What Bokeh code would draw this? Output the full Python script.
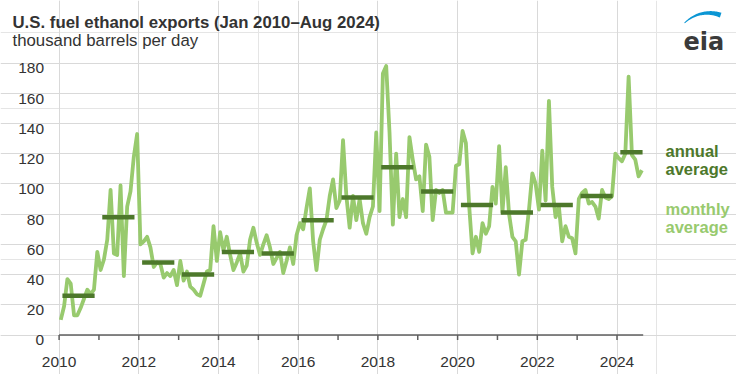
import numpy as np
from bokeh.plotting import figure
from bokeh.models import FixedTicker, Range1d, Grid
from bokeh.core.properties import value
from bokeh.embed import file_html
from bokeh.resources import INLINE

# ---- data (thousand barrels per day) ----
years = list(range(2010, 2025))
m2010 = [10, 19, 37, 34, 13, 13, 18, 24, 30, 27, 30, 55]
m2011 = [43, 50, 63, 96, 54, 53, 99, 39, 85, 95, 118, 133]
m2012 = [60, 62, 65, 58, 45, 48, 47, 38, 41, 39, 43, 33]
m2013 = [49, 36, 42, 32, 30, 27, 26, 34, 42, 43, 72, 49]
m2014 = [68, 56, 65, 53, 43, 48, 54, 42, 46, 63, 71, 61]
m2015 = [53, 60, 66, 58, 47, 51, 55, 41, 49, 58, 47, 66]
m2016 = [74, 70, 84, 97, 62, 43, 63, 70, 76, 92, 103, 84]
m2017 = [89, 129, 92, 71, 92, 76, 90, 74, 67, 78, 85, 134]
m2018 = [82, 173, 178, 134, 73, 120, 78, 90, 78, 131, 116, 103]
m2019 = [105, 82, 126, 118, 76, 96, 94, 96, 81, 81, 81, 112]
m2020 = [113, 135, 127, 85, 54, 65, 55, 74, 67, 72, 98, 87]
m2021 = [125, 81, 111, 80, 65, 62, 40, 62, 63, 83, 107, 100]
m2022 = [83, 122, 89, 155, 98, 78, 85, 62, 72, 65, 64, 54]
m2023 = [90, 94, 96, 87, 88, 85, 77, 96, 91, 90, 92, 120]
m2024 = [117, 115, 120, 171, 119, 116, 105, 109]
monthly = [m2010, m2011, m2012, m2013, m2014, m2015, m2016, m2017,
           m2018, m2019, m2020, m2021, m2022, m2023, m2024]
annual_avg = [26, 78, 48, 40, 55, 54, 76, 91, 111, 95, 86, 81, 86, 92, 121]
x_major = [2010, 2012, 2014, 2016, 2018, 2020, 2022, 2024]
x_tick_labels = ["2010", "2012", "2014", "2016", "2018", "2020", "2022", "2024"]
x_all_ticks = list(range(2010, 2025))
y_ticks = [0, 20, 40, 60, 80, 100, 120, 140, 160, 180]
y_tick_labels = ["0", "20", "40", "60", "80", "100", "120", "140", "160", "180"]

LIGHT = "#98ca6e"
DARK = "#4d782b"
TXT = "#333333"
AXIS = "#5f5f5f"
GRID = "#d9d9d9"
FONT = value("Liberation Sans")

# ---- geometry (figure sits at page x=0, y=OFF_Y) ----
W, H = 736, 374
OFF_X, OFF_Y = 0, 4
X_PX0, PX_YR = 58.6, 39.85          # page x of 2010, pixels per year
Y_PX0, PX_UNIT = 338.5, 272 / 180   # page y of 0, pixels per unit

def px2x(px):
    return 2010 + (px - X_PX0) / PX_YR

def py2y(py):
    return (Y_PX0 - py) / PX_UNIT

XEND = px2x(642.7)

p = figure(width=W, height=H, output_backend="svg", toolbar_location=None,
           title=None,
           x_range=Range1d(px2x(OFF_X), px2x(OFF_X + W)),
           y_range=Range1d(py2y(OFF_Y + H), py2y(OFF_Y)),
           x_axis_location=None, y_axis_location=None,
           min_border_left=0, min_border_right=0, min_border_top=0,
           min_border_bottom=0)
p.outline_line_color = None
p.background_fill_color = "white"
p.border_fill_color = "white"

# grids limited to the data area
p.add_layout(Grid(dimension=0, ticker=FixedTicker(ticks=x_major),
                  bounds=(0, 180), grid_line_color=GRID))
p.add_layout(Grid(dimension=1, ticker=FixedTicker(ticks=y_ticks),
                  bounds=(2010, XEND), grid_line_color=GRID))

# monthly points at mid-month
mx, my = [], []
for yr, vals in zip(years, monthly):
    for i, v in enumerate(vals):
        mx.append(yr + (i + 0.5) / 12)
        my.append(v)

# annual dashes
ax0 = [yr + 1.0 / 12 for yr in years]
ax1 = [yr + 10.7 / 12 for yr in years]
ax1[-1] = min(years[-1] + (len(m2024) - 0.3) / 12, XEND)

p.line(mx, my, line_color=LIGHT, line_width=3.8, line_join="round")
p.segment(x0=ax0, y0=annual_avg, x1=ax1, y1=annual_avg, line_color=DARK,
          line_width=4.5, line_cap="butt")

# x axis line and tick marks
tick_len = 5 / PX_UNIT
p.segment(x0=[2010], y0=[0], x1=[XEND], y1=[0], line_color=AXIS, line_width=1.5)
p.segment(x0=x_all_ticks, y0=[0] * len(x_all_ticks), x1=x_all_ticks,
          y1=[-tick_len] * len(x_all_ticks), line_color=AXIS, line_width=1.5)

# tick labels
p.text(x=x_major, y=[py2y(365)] * len(x_major), text=x_tick_labels,
       text_font=FONT, text_font_size="15.5px", text_color=TXT,
       text_align="center", text_baseline="alphabetic")
p.text(x=[px2x(43.5)] * len(y_ticks), y=[t - 5.4 / PX_UNIT for t in y_ticks],
       text=y_tick_labels, text_font=FONT, text_font_size="15.5px",
       text_color=TXT, text_align="right", text_baseline="alphabetic")

def add_text(px, py, text, size, color, bold=False, font=FONT):
    p.text(x=[px2x(px)], y=[py2y(py)], text=[text], text_font=font,
           text_font_size=size, text_color=color,
           text_font_style=value("bold" if bold else "normal"),
           text_align="left", text_baseline="alphabetic")

add_text(12, 25.5, "U.S. fuel ethanol exports (Jan 2010\u2013Aug 2024)", "16.8px", TXT, True)
add_text(12, 43.5, "thousand barrels per day", "16.8px", TXT)
add_text(665, 154.5, "annual", "16.5px", DARK, True)
add_text(665, 172.5, "average", "16.5px", DARK, True)
add_text(665, 212, "monthly", "16.5px", LIGHT, True)
add_text(665, 230, "average", "16.5px", LIGHT, True)

# eia logo
add_text(683, 45, "eia", "24px", "#3a3a3a", True, value("DejaVu Sans"))
ang = np.linspace(np.radians(222), np.radians(288), 40)
R = 35.4
cx, cy = 710, 50
thick = np.linspace(0.8, 5.0, len(ang))
ox = cx + R * np.cos(ang)
oy = cy + R * np.sin(ang)
ix = cx + (R - thick) * np.cos(ang)
iy = cy + (R - thick) * np.sin(ang)
xs = [px2x(v) for v in list(ox) + list(ix[::-1])]
ys = [py2y(v) for v in list(oy) + list(iy[::-1])]
p.patch(xs, ys, fill_color="#0b96d4", line_color=None)

open("out.html", "w").write(file_html(p, INLINE))
